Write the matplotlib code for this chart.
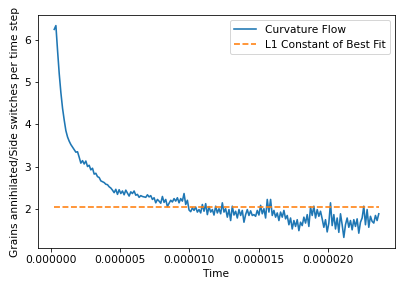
import numpy as np
import matplotlib
matplotlib.use("Agg")
import matplotlib.pyplot as plt
from matplotlib.ticker import FormatStrFormatter

# Time grid (seconds)
t_start = 2.6e-7
t_end = 2.366e-5

# Ratio of grains annihilated / side switches per time step
ratio = [
    6.25, 6.34, 5.75, 5.20, 4.75, 4.38, 4.10, 3.85, 3.70, 3.60,
    3.52, 3.46, 3.40, 3.34, 3.35, 3.22, 3.08, 3.14, 3.06, 3.13,
    3.00, 3.03, 2.92, 2.96, 2.82, 2.84, 2.76, 2.74, 2.66, 2.64,
    2.62, 2.58, 2.57, 2.52, 2.49, 2.44, 2.38, 2.46, 2.34, 2.45,
    2.36, 2.42, 2.33, 2.44, 2.37, 2.30, 2.40, 2.36, 2.42, 2.32,
    2.34, 2.27, 2.31, 2.29, 2.28, 2.27, 2.33, 2.28, 2.31, 2.22,
    2.26, 2.14, 2.22, 2.18, 2.13, 2.29, 2.15, 2.22, 2.05, 2.13,
    2.20, 2.16, 2.24, 2.18, 2.26, 2.14, 2.24, 2.18, 2.36, 2.10,
    2.20, 1.97, 1.93, 2.02, 1.96, 2.04, 1.92, 1.98, 1.90, 2.10,
    1.94, 2.12, 1.86, 2.05, 1.92, 1.98, 1.85, 2.06, 1.90, 2.00,
    1.88, 2.14, 1.92, 2.00, 1.80, 1.98, 1.72, 2.06, 1.85, 1.94,
    1.78, 1.98, 1.84, 1.96, 1.68, 1.86, 1.98, 1.84, 1.95, 1.84,
    1.86, 1.82, 1.96, 1.85, 2.08, 1.88, 2.00, 1.78, 2.22, 1.92,
    2.22, 1.84, 1.96, 1.80, 1.90, 1.72, 1.92, 1.80, 1.96, 1.76,
    1.84, 1.62, 1.78, 1.52, 1.72, 1.58, 1.74, 1.48, 1.68, 1.60,
    1.80, 1.66, 1.86, 1.58, 2.04, 1.84, 2.06, 1.78, 1.98, 1.82,
    1.94, 1.76, 1.56, 1.74, 1.45, 1.66, 2.14, 1.60, 1.86, 1.52,
    1.78, 1.44, 1.88, 1.62, 1.32, 1.62, 1.78, 1.56, 1.72, 1.50,
    1.74, 1.58, 1.76, 1.42, 1.68, 1.78, 2.06, 1.62, 1.98, 1.56,
    1.82, 1.70, 1.66, 1.84, 1.72, 1.88,
]

best_fit_constant = 2.03

x_ticks = [0.0, 5e-6, 1e-5, 1.5e-5, 2e-5]
y_ticks = [2, 3, 4, 5, 6]

t = np.linspace(t_start, t_end, len(ratio))

fs = 10.6
fig = plt.figure(figsize=(407 / 72, 289 / 72), dpi=72)
ax = fig.add_axes([38 / 407, 41 / 289, 357 / 407, 233 / 289])

ax.plot(t, ratio, color="#1f77b4", lw=1.6, label="Curvature Flow")
ax.plot(t, [best_fit_constant] * len(t), color="#ff7f0e", lw=1.6,
        linestyle="--", label="L1 Constant of Best Fit")

ax.set_xticks(x_ticks)
ax.set_yticks(y_ticks)
ax.xaxis.set_major_formatter(FormatStrFormatter("%.6f"))
ax.set_xlabel("Time", fontsize=fs)
ax.set_ylabel("Grains annihilated/Side switches per time step", fontsize=fs)
ax.tick_params(labelsize=fs)
ax.legend(loc="upper right", fontsize=fs, handlelength=2.1)

fig.savefig("out.png", dpi=72)
